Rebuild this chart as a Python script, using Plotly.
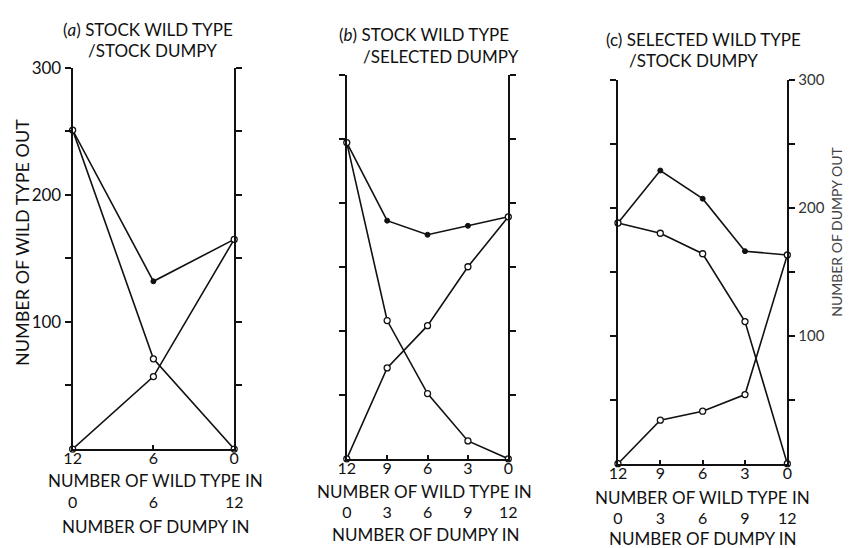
import plotly.graph_objects as go

# ---- data -------------------------------------------------------------
# panel (a): stock wild type / stock dumpy
a_wild_in = [12, 6, 0]
a_dumpy_in = [0, 6, 12]
a_total = [251, 132, 165]
a_wild_out = [251, 71, 0]
a_dumpy_out = [0, 57, 165]

# panel (b): stock wild type / selected dumpy
b_wild_in = [12, 9, 6, 3, 0]
b_dumpy_in = [0, 3, 6, 9, 12]
b_total = [247, 186, 175, 182, 189]
b_wild_out = [247, 108, 51, 14, 0]
b_dumpy_out = [0, 71, 104, 150, 189]

# panel (c): selected wild type / stock dumpy
c_wild_in = [12, 9, 6, 3, 0]
c_dumpy_in = [0, 3, 6, 9, 12]
c_total = [188, 229, 207, 166, 163]
c_wild_out = [188, 180, 164, 111, 0]
c_dumpy_out = [0, 34, 41, 54, 163]

y_ticks = [50, 100, 150, 200, 250, 300]
y_labels = ["", "100", "", "200", "", "300"]

titles = [
    ("(<i>a</i>) STOCK WILD TYPE", "/STOCK DUMPY"),
    ("(<i>b</i>) STOCK WILD TYPE", "/SELECTED DUMPY"),
    ("(c) SELECTED WILD TYPE", "/STOCK DUMPY"),
]

# ---- geometry (pixels in a 859 x 548 page) ----------------------------
W, H = 859, 548
FONT = "Lato"
INK = "#111111"


def px(x):
    return x / W


def py(y):
    return 1 - y / H


panels = [
    dict(x0=65, x1=230, top=58, bottom=447, low_row=490,
         t1=(54, 19), t2=(80, 40), wt_title=(150, 479), dp_title=(150, 526),
         wild_in=a_wild_in, dumpy_in=a_dumpy_in,
         total=a_total, wild=a_wild_out, dumpy=a_dumpy_out,
         left_labels=y_labels, right_labels=None),
    dict(x0=345, x1=510, top=65, bottom=457, low_row=500,
         t1=(336, 24), t2=(361, 46), wt_title=(424, 490), dp_title=(425, 534),
         wild_in=b_wild_in, dumpy_in=b_dumpy_in,
         total=b_total, wild=b_wild_out, dumpy=b_dumpy_out,
         left_labels=None, right_labels=None),
    dict(x0=622, x1=795, top=70, bottom=462, low_row=506,
         t1=(609, 29), t2=(632, 51), wt_title=(708, 496), dp_title=(708, 538),
         wild_in=c_wild_in, dumpy_in=c_dumpy_in,
         total=c_total, wild=c_wild_out, dumpy=c_dumpy_out,
         left_labels=None, right_labels=y_labels),
]

fig = go.Figure()
layout = {}
annotations = []

line_style = dict(color=INK, width=1.6)
open_marker = dict(symbol="circle", size=6, color="white",
                   line=dict(color=INK, width=1.3))
solid_marker = dict(symbol="circle", size=5, color=INK,
                    line=dict(color=INK, width=1))


def text_note(text, x, y, size=17, anchor="center", color=INK, angle=0):
    return dict(text=text, x=px(x), y=py(y), xref="paper", yref="paper",
                xanchor=anchor, yanchor="middle", showarrow=False,
                borderpad=0, textangle=angle,
                font=dict(family=FONT, size=size, color=color))


for i, p in enumerate(panels):
    n = 4 * i
    xw, xd = f"x{n + 1 if n else ''}", f"x{n + 2}"
    yl, yr = f"y{n + 1 if n else ''}", f"y{n + 2}"
    kxw, kxd = f"xaxis{n + 1 if n else ''}", f"xaxis{n + 2}"
    kyl, kyr = f"yaxis{n + 1 if n else ''}", f"yaxis{n + 2}"

    xdom = [px(p["x0"]), px(p["x1"])]
    ydom = [py(p["bottom"]), py(p["top"])]

    # total output and wild type output against wild type in
    fig.add_trace(go.Scatter(x=p["wild_in"], y=p["total"], xaxis=xw, yaxis=yl,
                             mode="lines+markers", line=line_style,
                             marker=solid_marker, cliponaxis=False,
                             showlegend=False))
    fig.add_trace(go.Scatter(x=p["wild_in"], y=p["wild"], xaxis=xw, yaxis=yl,
                             mode="lines+markers", line=line_style,
                             marker=open_marker, cliponaxis=False,
                             showlegend=False))
    # dumpy output against dumpy in, read on the right-hand axis
    fig.add_trace(go.Scatter(x=p["dumpy_in"], y=p["dumpy"], xaxis=xd, yaxis=yr,
                             mode="lines+markers", line=line_style,
                             marker=open_marker, cliponaxis=False,
                             showlegend=False))

    layout[kxw] = dict(domain=xdom, anchor=yl, range=[12, 0],
                       tickvals=p["wild_in"], ticks="inside", ticklen=4,
                       tickwidth=1.5, tickcolor=INK, ticklabelstandoff=-6,
                       showline=True, linewidth=2, linecolor=INK,
                       showgrid=False, zeroline=False,
                       tickfont=dict(family=FONT, size=16, color=INK))
    layout[kxd] = dict(domain=xdom, overlaying=xw, anchor="free",
                       position=py(p["low_row"]), side="bottom",
                       range=[0, 12], tickvals=p["dumpy_in"], ticks="",
                       showline=False, showgrid=False, zeroline=False,
                       tickfont=dict(family=FONT, size=16, color=INK))
    left_labels = p["left_labels"]
    layout[kyl] = dict(domain=ydom, anchor=xw, range=[0, 300],
                       tickvals=y_ticks,
                       ticktext=left_labels if left_labels else [""] * len(y_ticks),
                       ticks="outside", ticklen=6, tickwidth=1.5, tickcolor=INK,
                       showline=True, linewidth=2, linecolor=INK,
                       showgrid=False, zeroline=False,
                       tickfont=dict(family=FONT, size=17, color=INK))
    right_labels = p["right_labels"]
    layout[kyr] = dict(domain=ydom, anchor=xw, overlaying=yl, side="right",
                       range=[0, 300], tickvals=y_ticks,
                       ticktext=right_labels if right_labels else [""] * len(y_ticks),
                       ticks="outside", ticklen=6, tickwidth=1.5, tickcolor=INK,
                       showline=True, linewidth=2, linecolor=INK,
                       showgrid=False, zeroline=False,
                       tickfont=dict(family=FONT, size=15, color="#333333"))

    t1, t2 = titles[i]
    annotations.append(text_note(t1, *p["t1"], anchor="left"))
    annotations.append(text_note(t2, *p["t2"], anchor="left"))
    annotations.append(text_note("NUMBER OF WILD TYPE IN", *p["wt_title"]))
    annotations.append(text_note("NUMBER OF DUMPY IN", *p["dp_title"]))

# axis titles for the output counts
annotations.append(text_note("NUMBER OF WILD TYPE OUT", 14, 236, size=18,
                             angle=-90))
annotations.append(text_note("NUMBER OF DUMPY OUT", 845, 225, size=14,
                             color="#444444", angle=-90))

fig.update_layout(**layout)
fig.update_layout(width=W, height=H, margin=dict(l=0, r=0, t=0, b=0),
                  paper_bgcolor="white", plot_bgcolor="white",
                  annotations=annotations, showlegend=False)

fig.write_html("out.html")
